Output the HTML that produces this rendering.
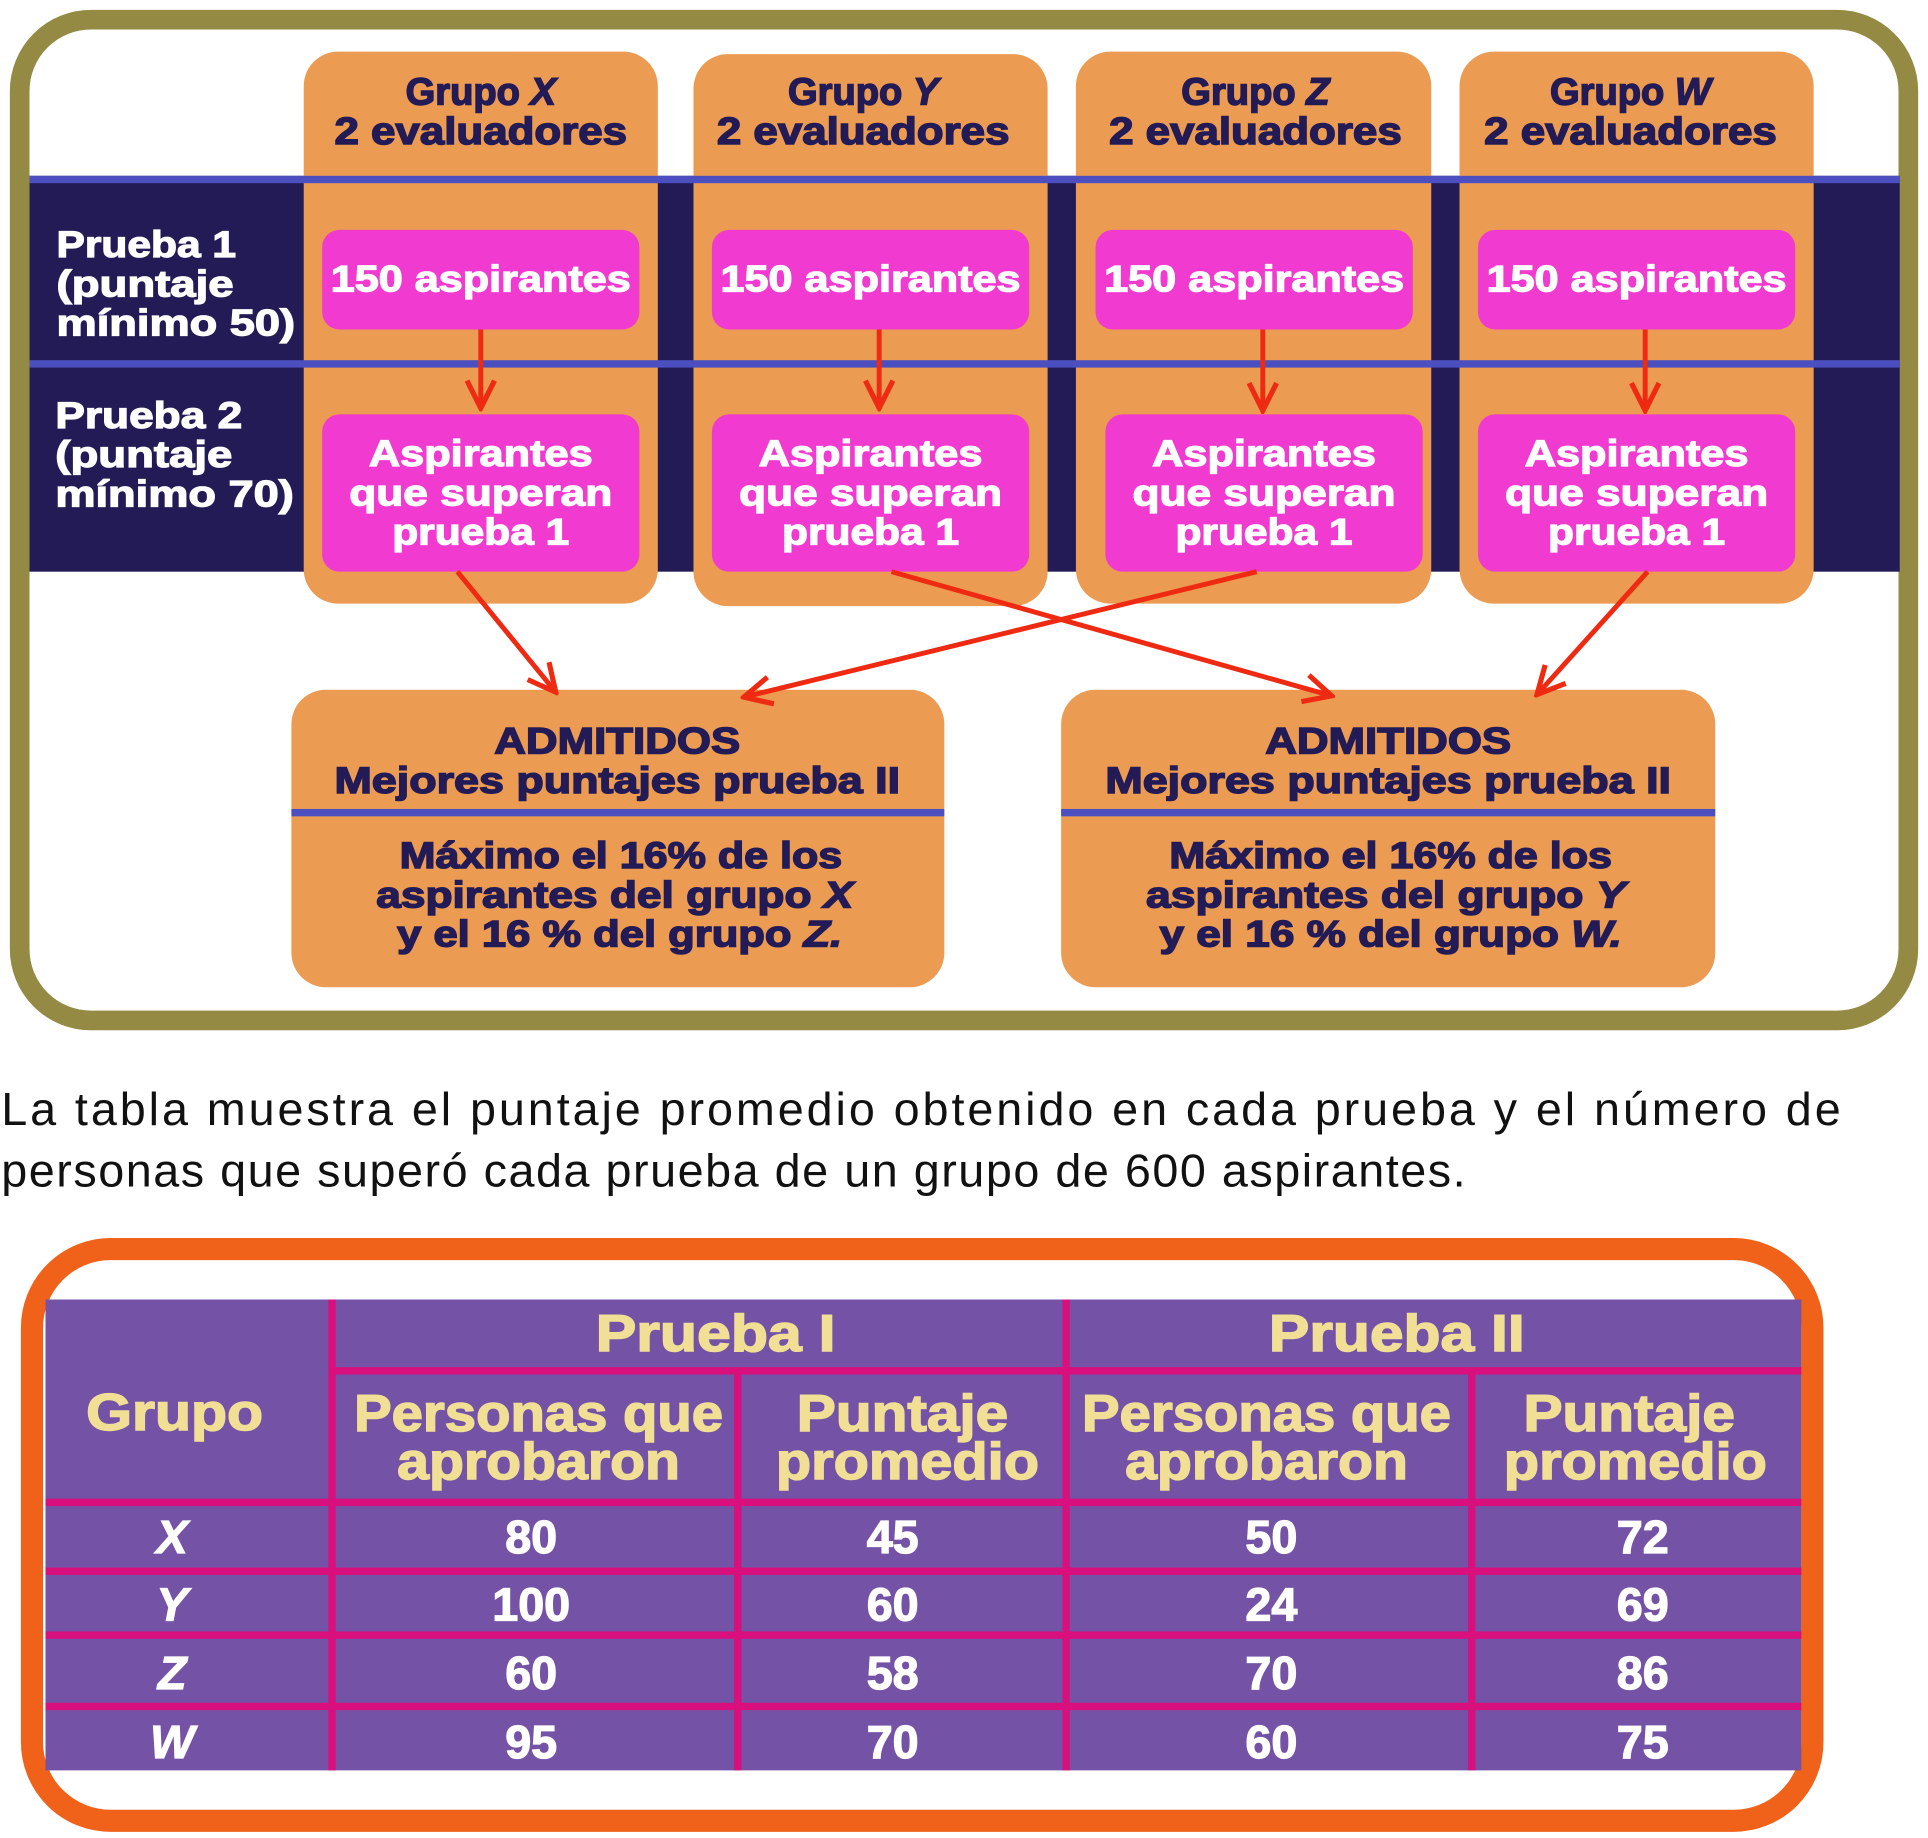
<!DOCTYPE html>
<html><head><meta charset="utf-8"><style>
html,body{margin:0;padding:0;background:#fff;}
svg{display:block;}
.h{font-family:"Liberation Sans",sans-serif;font-weight:bold;}
</style></head><body>
<svg width="1928" height="1838" viewBox="0 0 1568 1495" preserveAspectRatio="none" xmlns="http://www.w3.org/2000/svg">
<defs>
<marker id="ah" viewBox="0 0 20 20" refX="18" refY="10" markerWidth="7" markerHeight="7" orient="auto" markerUnits="strokeWidth">
<polyline points="2,2 18,10 2,18" fill="none" stroke="#ee2a12" stroke-width="3"/>
</marker>
</defs>
<rect x="16" y="16" width="1536" height="814" rx="58" fill="#fff" stroke="#948a43" stroke-width="16"/>
<rect x="24" y="143" width="1521" height="322" fill="#221b56"/>
<g fill="#ec9b52">
<rect x="247" y="42" width="288" height="449" rx="28"/>
<rect x="564" y="44" width="288" height="449" rx="28"/>
<rect x="875" y="42" width="289" height="449" rx="28"/>
<rect x="1187" y="42" width="288" height="449" rx="28"/>
</g>
<rect x="24" y="143" width="1521" height="6" fill="#4b4fbf"/>
<rect x="24" y="293" width="1521" height="6" fill="#4b4fbf"/>
<g class="h" fill="#221b56" stroke="#221b56" stroke-width="1.2" font-size="31" text-anchor="middle">
<text x="391" y="85">Grupo <tspan font-style="italic">X</tspan></text>
<text x="391" y="117" textLength="238" lengthAdjust="spacingAndGlyphs">2 evaluadores</text>
<text x="702" y="85">Grupo <tspan font-style="italic">Y</tspan></text>
<text x="702" y="117" textLength="238" lengthAdjust="spacingAndGlyphs">2 evaluadores</text>
<text x="1021" y="85">Grupo <tspan font-style="italic">Z</tspan></text>
<text x="1021" y="117" textLength="238" lengthAdjust="spacingAndGlyphs">2 evaluadores</text>
<text x="1326" y="85">Grupo <tspan font-style="italic">W</tspan></text>
<text x="1326" y="117" textLength="238" lengthAdjust="spacingAndGlyphs">2 evaluadores</text>
</g>
<g class="h" fill="#fff" stroke="#fff" stroke-width="1" font-size="30">
<text x="46" y="209" textLength="146" lengthAdjust="spacingAndGlyphs">Prueba 1</text>
<text x="46" y="241" textLength="144" lengthAdjust="spacingAndGlyphs">(puntaje</text>
<text x="46" y="273" textLength="194" lengthAdjust="spacingAndGlyphs">mínimo 50)</text>
<text x="45" y="348" textLength="152" lengthAdjust="spacingAndGlyphs">Prueba 2</text>
<text x="45" y="380" textLength="144" lengthAdjust="spacingAndGlyphs">(puntaje</text>
<text x="45" y="412" textLength="194" lengthAdjust="spacingAndGlyphs">mínimo 70)</text>
</g>
<g fill="#f03ad0">
<rect x="262" y="187" width="258" height="81" rx="14"/>
<rect x="579" y="187" width="258" height="81" rx="14"/>
<rect x="891" y="187" width="258" height="81" rx="14"/>
<rect x="1202" y="187" width="258" height="81" rx="14"/>
<rect x="262" y="337" width="258" height="128" rx="14"/>
<rect x="579" y="337" width="258" height="128" rx="14"/>
<rect x="899" y="337" width="258" height="128" rx="14"/>
<rect x="1202" y="337" width="258" height="128" rx="14"/>
</g>
<g class="h" fill="#fff" stroke="#fff" stroke-width="1" font-size="30" text-anchor="middle">
<text x="391" y="237" textLength="244" lengthAdjust="spacingAndGlyphs">150 aspirantes</text>
<text x="708" y="237" textLength="244" lengthAdjust="spacingAndGlyphs">150 aspirantes</text>
<text x="1020" y="237" textLength="244" lengthAdjust="spacingAndGlyphs">150 aspirantes</text>
<text x="1331" y="237" textLength="244" lengthAdjust="spacingAndGlyphs">150 aspirantes</text>
<text x="391" y="379" textLength="182" lengthAdjust="spacingAndGlyphs">Aspirantes</text><text x="391" y="411" textLength="214" lengthAdjust="spacingAndGlyphs">que superan</text><text x="391" y="443" textLength="144" lengthAdjust="spacingAndGlyphs">prueba 1</text>
<text x="708" y="379" textLength="182" lengthAdjust="spacingAndGlyphs">Aspirantes</text><text x="708" y="411" textLength="214" lengthAdjust="spacingAndGlyphs">que superan</text><text x="708" y="443" textLength="144" lengthAdjust="spacingAndGlyphs">prueba 1</text>
<text x="1028" y="379" textLength="182" lengthAdjust="spacingAndGlyphs">Aspirantes</text><text x="1028" y="411" textLength="214" lengthAdjust="spacingAndGlyphs">que superan</text><text x="1028" y="443" textLength="144" lengthAdjust="spacingAndGlyphs">prueba 1</text>
<text x="1331" y="379" textLength="182" lengthAdjust="spacingAndGlyphs">Aspirantes</text><text x="1331" y="411" textLength="214" lengthAdjust="spacingAndGlyphs">que superan</text><text x="1331" y="443" textLength="144" lengthAdjust="spacingAndGlyphs">prueba 1</text>
</g>
<g fill="#ec9b52">
<rect x="237" y="561" width="531" height="242" rx="28"/>
<rect x="863" y="561" width="532" height="242" rx="28"/>
</g>
<rect x="237" y="658" width="531" height="6" fill="#4b4fbf"/>
<rect x="863" y="658" width="532" height="6" fill="#4b4fbf"/>
<g class="h" fill="#221b56" stroke="#221b56" stroke-width="1.2" font-size="30" text-anchor="middle">
<text x="502" y="613" textLength="200" lengthAdjust="spacingAndGlyphs">ADMITIDOS</text>
<text x="502" y="645" textLength="460" lengthAdjust="spacingAndGlyphs">Mejores puntajes prueba II</text>
<text x="505" y="706" textLength="360" lengthAdjust="spacingAndGlyphs">Máximo el 16% de los</text>
<text x="500" y="738" textLength="388" lengthAdjust="spacingAndGlyphs">aspirantes del grupo <tspan font-style="italic">X</tspan></text>
<text x="504" y="770" textLength="362" lengthAdjust="spacingAndGlyphs">y el 16 % del grupo <tspan font-style="italic">Z.</tspan></text>
<text x="1129" y="613" textLength="200" lengthAdjust="spacingAndGlyphs">ADMITIDOS</text>
<text x="1129" y="645" textLength="460" lengthAdjust="spacingAndGlyphs">Mejores puntajes prueba II</text>
<text x="1131" y="706" textLength="360" lengthAdjust="spacingAndGlyphs">Máximo el 16% de los</text>
<text x="1127" y="738" textLength="390" lengthAdjust="spacingAndGlyphs">aspirantes del grupo <tspan font-style="italic">Y</tspan></text>
<text x="1131" y="770" textLength="376" lengthAdjust="spacingAndGlyphs">y el 16 % del grupo <tspan font-style="italic">W.</tspan></text>
</g>
<g stroke="#ee2a12" stroke-width="4" fill="none" marker-end="url(#ah)">
<line x1="391" y1="268" x2="391" y2="332"/>
<line x1="715" y1="268" x2="715" y2="332"/>
<line x1="1027" y1="268" x2="1027" y2="334"/>
<line x1="1338" y1="268" x2="1338" y2="334"/>
<line x1="372" y1="465" x2="452" y2="563"/>
<line x1="725" y1="465" x2="1083" y2="566"/>
<line x1="1022" y1="465" x2="605" y2="567"/>
<line x1="1340" y1="465" x2="1250" y2="565"/>
</g>
<g font-family="'Liberation Sans',sans-serif" font-size="38" fill="#111">
<text x="1" y="915" textLength="1496" lengthAdjust="spacing">La tabla muestra el puntaje promedio obtenido en cada prueba y el número de</text>
<text x="1" y="965" textLength="1191" lengthAdjust="spacing">personas que superó cada prueba de un grupo de 600 aspirantes.</text>
</g>
<rect x="26" y="1016" width="1448" height="465" rx="64" fill="#fff" stroke="#f0621a" stroke-width="18"/>
<rect x="37" y="1057" width="1428" height="383" fill="#7453a6"/>
<g fill="#d80f7d">
<rect x="267" y="1057" width="6" height="383"/>
<rect x="597" y="1117" width="6" height="323"/>
<rect x="864" y="1057" width="6" height="383"/>
<rect x="1194" y="1117" width="6" height="323"/>
<rect x="270" y="1112" width="1195" height="6"/>
<rect x="37" y="1219" width="1428" height="6"/>
<rect x="37" y="1275" width="1428" height="6"/>
<rect x="37" y="1327" width="1428" height="6"/>
<rect x="37" y="1385" width="1428" height="6"/>
</g>
<g class="h" fill="#f0df94" stroke="#f0df94" stroke-width="1.2" font-size="42" text-anchor="middle">
<text x="582" y="1099" textLength="195" lengthAdjust="spacingAndGlyphs">Prueba I</text>
<text x="1136" y="1099" textLength="208" lengthAdjust="spacingAndGlyphs">Prueba II</text>
<text x="142" y="1163" textLength="144" lengthAdjust="spacingAndGlyphs">Grupo</text>
<text x="438" y="1164" textLength="300" lengthAdjust="spacingAndGlyphs">Personas que</text>
<text x="438" y="1203" textLength="230" lengthAdjust="spacingAndGlyphs">aprobaron</text>
<text x="734" y="1164" textLength="172" lengthAdjust="spacingAndGlyphs">Puntaje</text>
<text x="738" y="1203" textLength="214" lengthAdjust="spacingAndGlyphs">promedio</text>
<text x="1030" y="1164" textLength="300" lengthAdjust="spacingAndGlyphs">Personas que</text>
<text x="1030" y="1203" textLength="230" lengthAdjust="spacingAndGlyphs">aprobaron</text>
<text x="1325" y="1164" textLength="172" lengthAdjust="spacingAndGlyphs">Puntaje</text>
<text x="1330" y="1203" textLength="214" lengthAdjust="spacingAndGlyphs">promedio</text>
</g>
<g class="h" fill="#fff" stroke="#fff" stroke-width="1" font-size="38" text-anchor="middle">
<g font-style="italic">
<text x="140" y="1263">X</text><text x="140" y="1318">Y</text><text x="140" y="1374">Z</text><text x="140" y="1430">W</text>
</g>
<text x="432" y="1263">80</text><text x="726" y="1263">45</text><text x="1034" y="1263">50</text><text x="1336" y="1263">72</text>
<text x="432" y="1318">100</text><text x="726" y="1318">60</text><text x="1034" y="1318">24</text><text x="1336" y="1318">69</text>
<text x="432" y="1374">60</text><text x="726" y="1374">58</text><text x="1034" y="1374">70</text><text x="1336" y="1374">86</text>
<text x="432" y="1430">95</text><text x="726" y="1430">70</text><text x="1034" y="1430">60</text><text x="1336" y="1430">75</text>
</g>
</svg>
</body></html>
